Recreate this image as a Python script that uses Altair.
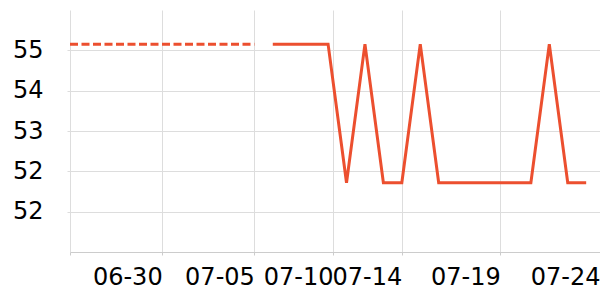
import altair as alt
import pandas as pd

# Data
dates = ["06-25", "06-26", "06-27", "06-28", "06-29", "06-30", "07-01", "07-02",
         "07-03", "07-04", "07-05", "07-06", "07-07", "07-08", "07-09", "07-10",
         "07-11", "07-12", "07-13", "07-14", "07-15", "07-16", "07-17", "07-18",
         "07-19", "07-20", "07-21", "07-22", "07-23"]
dashed_values = [55.13, 55.13, 55.13, 55.13, 55.13, 55.13, 55.13, 55.13, 55.13, 55.13, 55.13]
solid_values = [55.13, 55.13, 55.13, 55.13, 52.21, 55.13, 52.21, 52.21, 55.13, 52.21,
                52.21, 52.21, 52.21, 52.21, 52.21, 55.13, 52.21, 52.21]

tick_labels = ["", "06-30", "07-05", "07-10", "07-14", "07-19", "07-24"]
tick_index = [0, 5, 10, 14.27, 18, 23.34, 28.75]
y_ticks = [55.0, 54.15, 53.3, 52.45, 51.6]

rows = []
for i, v in enumerate(dashed_values):
    rows.append({"idx": i, "date": dates[i], "value": v, "series": "dashed"})
off = len(dashed_values)
for j, v in enumerate(solid_values):
    rows.append({"idx": off + j, "date": dates[off + j], "value": v, "series": "solid"})
df = pd.DataFrame(rows)

label_expr = "''"
for p, l in zip(reversed(tick_index), reversed(tick_labels)):
    label_expr = f"datum.value == {p} ? '{l}' : ({label_expr})"

FONT = "DejaVu Sans"
COLOR = "#ec4f2f"
FS = 24

x = alt.X("idx:Q",
          scale=alt.Scale(domain=[0, 28.75], nice=False, zero=False),
          axis=alt.Axis(values=tick_index, labelExpr=label_expr, labelAlign="right",
                        labelBaseline="top", title=None, grid=True, gridColor="#dddddd",
                        tickColor="#cccccc", domainColor="#cccccc", tickSize=3,
                        labelPadding=10, labelFont=FONT, labelFontSize=FS,
                        labelColor="#000000", labelOverlap=False, labelBound=False,
                        labelFlush=False))
y = alt.Y("value:Q",
          scale=alt.Scale(domain=[50.75, 55.85], nice=False, zero=False),
          axis=alt.Axis(values=y_ticks, format=".0f", title=None, domain=False,
                        grid=True, gridColor="#dddddd", tickColor="#dddddd", tickSize=3,
                        labelPadding=24, labelFont=FONT, labelFontSize=FS,
                        labelColor="#000000", labelOverlap=False))

base = alt.Chart(df)
dashed = base.transform_filter(alt.datum.series == "dashed").mark_line(
    color=COLOR, strokeWidth=3, strokeDash=[8, 3.5]).encode(x=x, y=y)
solid = base.transform_filter(alt.datum.series == "solid").mark_line(
    color=COLOR, strokeWidth=3).encode(x=x, y=y)

chart = alt.layer(dashed, solid).properties(
    width=530, height=242,
    autosize=alt.AutoSizeParams(type="none"),
    padding={"left": 70, "top": 10, "right": 0, "bottom": 48},
).configure_view(strokeWidth=0)

chart.save("out.html", embed_options={"renderer": "svg", "actions": False})
